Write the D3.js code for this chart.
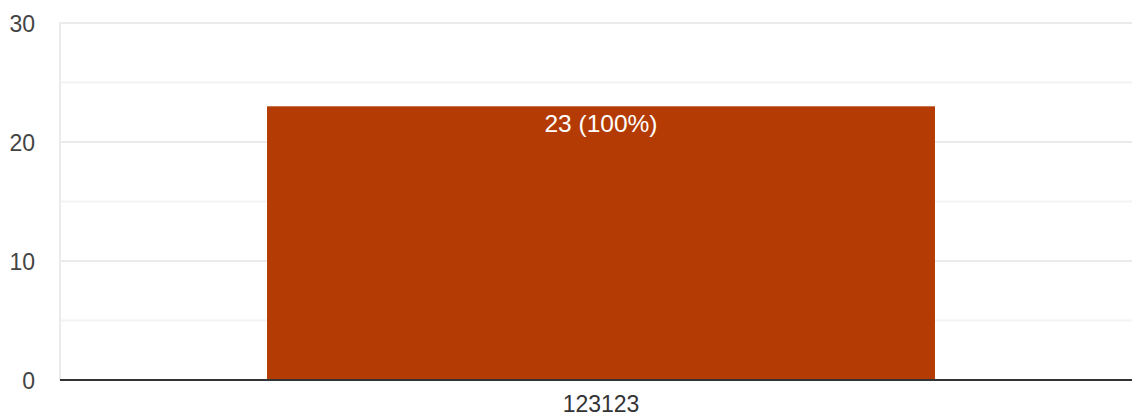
<!DOCTYPE html>
<html>
<head>
<meta charset="utf-8">
<script src="https://cdn.jsdelivr.net/npm/d3@7"></script>
<style>
  html, body { margin: 0; padding: 0; background: #fff; }
  svg { display: block; font-family: "Liberation Sans", Arial, sans-serif; }
</style>
</head>
<body>
<svg id="chart" width="1132" height="416"></svg>
<script>
const categories = ["123123"];
const values = [23];
const labels = ["23 (100%)"];
const yTicks = [0, 10, 20, 30];
const yMinorTicks = [5, 15, 25];

(function () {
const svg = d3.select("#chart");
const mLeft = 60, mRight = 1142, mTop = 23, mBottom = 380;
const fs = 23;

const x = d3.scaleBand().domain(categories).range([mLeft, mRight]).padding(0.2366);
const y = d3.scaleLinear().domain([0, 30]).range([mBottom, mTop]);

// minor gridlines
svg.append("g").selectAll("line").data(yMinorTicks).join("line")
  .attr("x1", mLeft).attr("x2", 1132)
  .attr("y1", d => y(d)).attr("y2", d => y(d))
  .attr("stroke", "#f3f3f3").attr("stroke-width", 2);

// major gridlines
svg.append("g").selectAll("line").data(yTicks.filter(d => d !== 0)).join("line")
  .attr("x1", mLeft).attr("x2", 1132)
  .attr("y1", d => y(d)).attr("y2", d => y(d))
  .attr("stroke", "#ebebeb").attr("stroke-width", 2);

// left vertical gridline
svg.append("line").attr("x1", mLeft).attr("x2", mLeft).attr("y1", y(30) - 1).attr("y2", mBottom)
  .attr("stroke", "#ebebeb").attr("stroke-width", 2);

// y tick labels
svg.append("g").selectAll("text").data(yTicks).join("text")
  .attr("x", 35).attr("y", d => Math.max(28, y(d) + 8.5))
  .attr("text-anchor", "end").attr("font-size", fs).attr("fill", "#444")
  .text(d => d);

// bars
svg.append("g").selectAll("rect").data(values).join("rect")
  .attr("x", (d, i) => x(categories[i])).attr("width", x.bandwidth())
  .attr("y", d => y(d)).attr("height", d => mBottom - y(d))
  .attr("fill", "#b43c04");

// bar labels
svg.append("g").selectAll("text").data(values).join("text")
  .attr("x", (d, i) => x(categories[i]) + x.bandwidth() / 2)
  .attr("y", d => y(d) + 26)
  .attr("text-anchor", "middle").attr("font-size", 24.5).attr("fill", "#fff")
  .text((d, i) => labels[i]);

// baseline
svg.append("line").attr("x1", mLeft).attr("x2", 1132).attr("y1", mBottom).attr("y2", mBottom)
  .attr("stroke", "#333").attr("stroke-width", 2);

// x labels
svg.append("g").selectAll("text").data(categories).join("text")
  .attr("x", d => x(d) + x.bandwidth() / 2).attr("y", 412)
  .attr("text-anchor", "middle").attr("font-size", fs).attr("fill", "#333")
  .text(d => d);
})();
</script>
</body>
</html>
